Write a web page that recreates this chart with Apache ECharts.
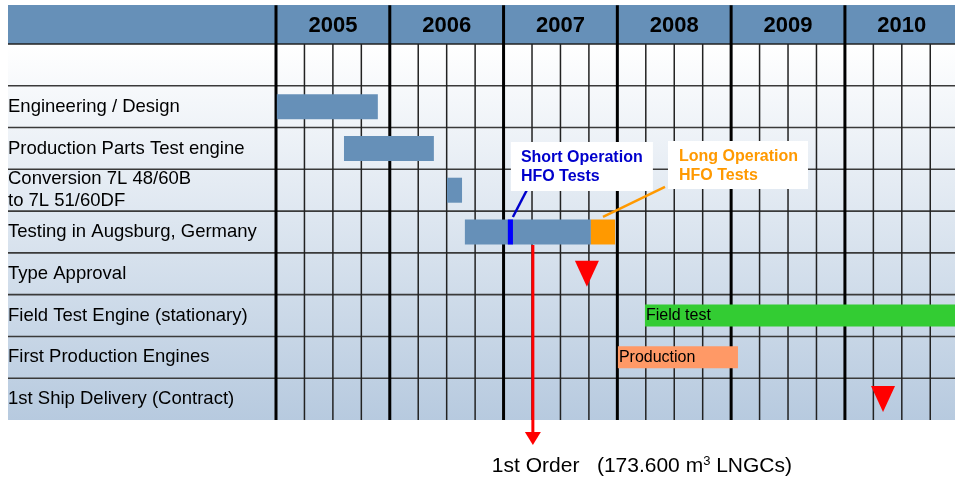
<!DOCTYPE html>
<html>
<head>
<meta charset="utf-8">
<script src="https://cdn.jsdelivr.net/npm/echarts@6/dist/echarts.min.js"></script>
<style>
  html, body { margin: 0; padding: 0; background: #fff; }
  #chart { width: 955px; height: 481px; }
</style>
</head>
<body>
<div id="chart"></div>
<script>
const FONT = "'Liberation Sans', Arial, sans-serif";

// rows top to bottom: header, blank row, then the tasks
const rowLabels = [
  '',
  '',
  'Engineering / Design',
  'Production Parts Test engine',
  'Conversion 7L 48/60B\nto 7L 51/60DF',
  'Testing in Augsburg, Germany',
  'Type Approval',
  'Field Test Engine (stationary)',
  'First Production Engines',
  '1st Ship Delivery (Contract)'
];
const years = ['2005', '2006', '2007', '2008', '2009', '2010'];
const xMax = 23.87; // quarters from start of 2005 to right edge

// [row, start quarter, end quarter]
const phaseBars = [[2, 0.03, 3.58], [3, 2.39, 5.55], [4, 6.01, 6.54], [5, 6.64, 11.07]];
const longOpBar = [[5, 11.07, 11.92]];
const shortOpMark = [[5, 8.15, 8.33]];
const fieldTestBar = [[7, 12.97, 23.87]];
const productionBar = [[8, 12.02, 16.24]];
const fieldTestText = ['Field test'];
const productionText = ['Production'];
// [quarter, row]
const milestones = [[10.93, 6], [21.34, 9]];
// [row, quarter]
const firstOrder = [[5, 9.03]];
const shortOpText = ['Short Operation', 'HFO Tests'];
const longOpText = ['Long Operation', 'HFO Tests'];

const quarterLines = [];
for (let q = 0; q <= Math.floor(xMax); q++) quarterLines.push(q);
const yearCenters = years.map((y, i) => [i * 4 + 2, 0]);

const chart = echarts.init(document.getElementById('chart'));

function bandHeight(api) {
  return api.size([0, 1])[1];
}

function barSeries(name, data, color, h, texts) {
  return {
    type: 'custom',
    name,
    data,
    encode: { x: [1, 2], y: 0 },
    renderItem(params, api) {
      const row = api.value(0);
      const a = api.coord([api.value(1), row]);
      const b = api.coord([api.value(2), row]);
      const children = [{
        type: 'rect',
        shape: { x: a[0], y: a[1] - h / 2, width: b[0] - a[0], height: h },
        style: { fill: color }
      }];
      if (texts) {
        children.push({
          type: 'text',
          x: a[0] + 1,
          y: a[1],
          style: {
            text: texts[params.dataIndex],
            fill: '#000',
            font: '16px ' + FONT,
            verticalAlign: 'middle'
          }
        });
      }
      return { type: 'group', children };
    }
  };
}

function callout(data, lines, color, o) {
  return {
    type: 'custom',
    data,
    encode: { x: 1, y: 0 },
    clip: false,
    z: 5,
    renderItem(params, api) {
      const p = api.coord([api.value(1), api.value(0)]);
      const top = p[1] - 13;
      return {
        type: 'group',
        children: [
          {
            type: 'line',
            shape: { x1: p[0] + o.l1[0], y1: top + o.l1[1], x2: p[0] + o.l2[0], y2: top + o.l2[1] },
            style: { stroke: color, lineWidth: 2.5 }
          },
          {
            type: 'rect',
            shape: { x: p[0] + o.box[0], y: top + o.box[1], width: o.box[2], height: o.box[3] },
            style: { fill: '#fff' }
          },
          {
            type: 'text',
            x: p[0] + o.box[0] + o.text[0],
            y: top + o.box[1] + o.text[1],
            style: {
              text: lines.join('\n'),
              fill: color,
              font: 'bold 16px ' + FONT,
              lineHeight: 19,
              verticalAlign: 'top'
            }
          }
        ]
      };
    }
  };
}

chart.setOption({
  animation: false,
  backgroundColor: '#fff',
  grid: { left: 276, right: 0, top: 2.2, bottom: 61 },
  xAxis: {
    type: 'value',
    min: 0,
    max: xMax,
    show: false
  },
  yAxis: {
    type: 'category',
    inverse: true,
    data: rowLabels,
    axisLine: { show: false },
    axisTick: { show: false },
    splitLine: { show: false },
    axisLabel: {
      interval: 0,
      align: 'left',
      margin: 268,
      color: '#000',
      fontFamily: FONT,
      fontSize: 18.5,
      lineHeight: 22
    }
  },
  graphic: [
    {
      type: 'rect',
      z: -10,
      shape: { x: 8, y: 44, width: 947, height: 376 },
      style: {
        fill: new echarts.graphic.LinearGradient(0, 0, 0, 1, [
          { offset: 0, color: '#ffffff' },
          { offset: 1, color: '#b7cadf' }
        ])
      }
    },
    {
      type: 'rect',
      z: -10,
      shape: { x: 8, y: 5, width: 947, height: 39 },
      style: { fill: '#6690b8' }
    }
  ],
  series: [
    // horizontal row lines, running into the label column
    {
      type: 'custom',
      data: rowLabels.map((_, i) => [0, i]).slice(1),
      encode: { x: 0, y: 1 },
      clip: false,
      renderItem(params, api) {
        const p = api.coord([0, api.value(1)]);
        const y = p[1] - bandHeight(api) / 2;
        return {
          type: 'line',
          shape: { x1: 8, y1: y, x2: params.coordSys.x + params.coordSys.width, y2: y },
          style: { stroke: params.dataIndex === 0 ? '#222' : '#3a3a3a', lineWidth: 1.6 }
        };
      }
    },
    // vertical quarter and year lines
    {
      type: 'custom',
      data: quarterLines.map((q) => [q, 0]),
      encode: { x: 0, y: 1 },
      renderItem(params, api) {
        const q = api.value(0);
        const x = api.coord([q, 0])[0];
        const cs = params.coordSys;
        const isYear = q % 4 === 0;
        const y1 = isYear ? cs.y + 3 : api.coord([q, 1])[1] - bandHeight(api) / 2;
        return {
          type: 'line',
          shape: { x1: x, y1, x2: x, y2: cs.y + cs.height },
          style: { stroke: isYear ? '#000' : '#222', lineWidth: isYear ? 3 : 1.5 }
        };
      }
    },
    // year labels in header
    {
      type: 'custom',
      data: yearCenters,
      encode: { x: 0, y: 1 },
      renderItem(params, api) {
        const p = api.coord([api.value(0), api.value(1)]);
        return {
          type: 'text',
          x: p[0],
          y: p[1] + 3,
          style: {
            text: years[params.dataIndex],
            fill: '#000',
            font: 'bold 22px ' + FONT,
            align: 'center',
            verticalAlign: 'middle'
          }
        };
      }
    },
    barSeries('phases', phaseBars, '#6690b8', 25),
    barSeries('long', longOpBar, '#ff9900', 25),
    barSeries('short', shortOpMark, '#0000ff', 25),
    barSeries('field', fieldTestBar, '#33cc33', 22, fieldTestText),
    barSeries('production', productionBar, '#ff9966', 22, productionText),
    {
      type: 'scatter',
      data: milestones,
      symbol: 'triangle',
      symbolRotate: 180,
      symbolSize: [24, 26],
      itemStyle: { color: '#ff0000', opacity: 1 },
      z: 4
    },
    callout(shortOpMark.map((d) => [d[0], (d[1] + d[2]) / 2]), shortOpText, '#0000cc', {
      l1: [2.5, -2], l2: [16.5, -29], box: [0.5, -77, 142, 49], text: [10, 6]
    }),
    callout(longOpBar.map((d) => [d[0], (d[1] + d[2]) / 2]), longOpText, '#ff9900', {
      l1: [0, -2], l2: [62, -32], box: [65, -78, 140, 48], text: [11, 6]
    }),
    // first order arrow and caption
    {
      type: 'custom',
      data: firstOrder,
      encode: { x: 1, y: 0 },
      clip: false,
      z: 5,
      renderItem(params, api) {
        const p = api.coord([api.value(1), api.value(0)]);
        const cs = params.coordSys;
        const yEnd = cs.y + cs.height + 25;
        return {
          type: 'group',
          children: [
            {
              type: 'line',
              shape: { x1: p[0], y1: p[1] + 13, x2: p[0], y2: yEnd - 12 },
              style: { stroke: '#ff0000', lineWidth: 3 }
            },
            {
              type: 'polygon',
              shape: { points: [[p[0] - 8, yEnd - 13], [p[0] + 8, yEnd - 13], [p[0], yEnd]] },
              style: { fill: '#ff0000' }
            },
            {
              type: 'text',
              x: p[0] - 41,
              y: yEnd + 21,
              style: {
                text: '{m|1st Order   (173.600 m}{s|3}{m| LNGCs)}',
                verticalAlign: 'middle',
                rich: {
                  m: { fontSize: 21, fontFamily: FONT, fill: '#000', color: '#000' },
                  s: { fontSize: 13, fontFamily: FONT, fill: '#000', color: '#000', padding: [0, 0, 10, 0] }
                }
              }
            }
          ]
        };
      }
    }
  ]
});
</script>
</body>
</html>
